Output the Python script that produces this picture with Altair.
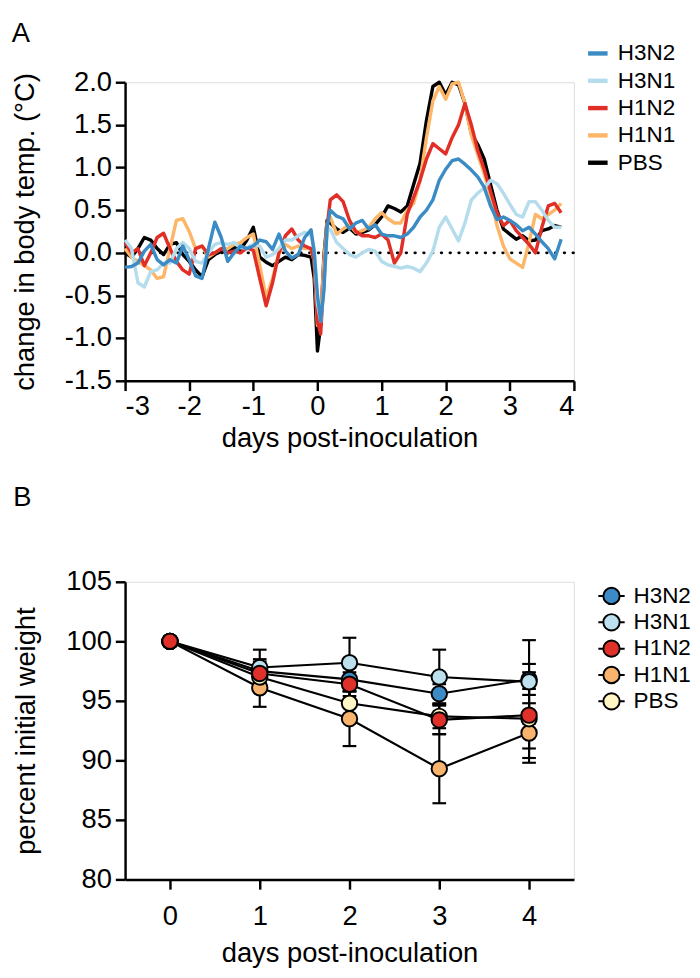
import altair as alt
import pandas as pd

FONT = "Liberation Sans"

# ---------------- Panel A data: change in body temperature ----------------
days = [-3.0, -2.9, -2.8, -2.7, -2.6, -2.5, -2.4, -2.3, -2.2, -2.1,
        -2.0, -1.9, -1.8, -1.7, -1.6, -1.5, -1.4, -1.3, -1.2, -1.1,
        -1.0, -0.9, -0.8, -0.7, -0.6, -0.5, -0.4, -0.3, -0.2, -0.1,
        -0.05, 0.0, 0.05, 0.1, 0.15, 0.2,
        0.3, 0.4, 0.5, 0.6, 0.7, 0.8, 0.9, 1.0, 1.1, 1.2, 1.3, 1.4,
        1.5, 1.6, 1.7, 1.8, 1.9, 2.0, 2.1, 2.2, 2.3, 2.4,
        2.5, 2.6, 2.7, 2.8, 2.9, 3.0, 3.1, 3.2, 3.3, 3.4,
        3.5, 3.6, 3.7, 3.8]

temp_h3n2 = [-0.17, -0.16, -0.12, 0.02, 0.10, -0.08, -0.14, -0.08, -0.12, 0.08,
             -0.08, -0.27, -0.30, 0.05, 0.36, 0.18, -0.10, 0.00, 0.08, 0.05,
             0.08, 0.15, 0.13, 0.04, 0.22, 0.02, -0.06, -0.02, 0.18, 0.27,
             0.00, -0.50, -0.80, -0.45, 0.30, 0.50,
             0.43, 0.40, 0.28, 0.35, 0.38, 0.28, 0.33, 0.22, 0.20, 0.20, 0.18, 0.22,
             0.30, 0.42, 0.50, 0.62, 0.85, 0.98, 1.08, 1.10, 1.04, 0.97,
             0.89, 0.77, 0.55, 0.39, 0.42, 0.38, 0.33, 0.26, 0.30, 0.22,
             0.13, 0.05, -0.07, 0.16]

temp_h3n1 = [0.15, 0.05, -0.35, -0.40, -0.22, -0.20, -0.12, -0.12, 0.05, 0.12,
             0.05, -0.10, -0.12, 0.00, 0.10, 0.12, 0.10, 0.12, 0.06, 0.06,
             0.10, 0.08, -0.05, -0.02, 0.05, 0.15, 0.15, 0.20, 0.24, 0.20,
             0.05, -0.60, -0.80, -0.40, 0.25, 0.28,
             0.12, 0.05, -0.02, -0.05, 0.00, 0.04, 0.02, -0.10, -0.14, -0.16, -0.18, -0.16,
             -0.18, -0.22, -0.12, 0.02, 0.30, 0.42, 0.28, 0.14, 0.35, 0.62,
             0.70, 0.76, 0.85, 0.81, 0.70, 0.57, 0.45, 0.42, 0.60, 0.60,
             0.50, 0.38, 0.30, 0.30]

temp_h1n2 = [0.12, 0.00, 0.05, -0.15, 0.00, 0.18, 0.23, 0.05, -0.10, -0.20,
             -0.25, 0.05, 0.08, -0.02, 0.00, 0.05, 0.00, 0.02, 0.00, 0.06,
             0.03, -0.30, -0.62, -0.35, 0.00, 0.20, 0.28, 0.15, 0.08, 0.05,
             -0.10, -0.80, -0.95, -0.30, 0.30, 0.62,
             0.68, 0.60, 0.38, 0.25, 0.20, 0.20, 0.18, 0.22, 0.15, -0.12, 0.00, 0.45,
             0.65, 0.85, 1.10, 1.28, 1.22, 1.16, 1.35, 1.50, 1.75, 1.50,
             1.20, 0.98, 0.72, 0.47, 0.32, 0.38, 0.26, 0.18, 0.10, 0.00,
             0.30, 0.55, 0.58, 0.47]

temp_h1n1 = [0.05, -0.05, -0.10, -0.15, -0.20, -0.30, -0.28, 0.05, 0.38, 0.40,
             0.25, 0.05, 0.08, -0.05, 0.00, 0.05, 0.05, 0.10, 0.12, 0.18,
             0.22, -0.15, -0.52, -0.30, 0.00, 0.10, 0.05, 0.08, 0.05, 0.05,
             -0.10, -0.85, -0.80, -0.10, 0.35, 0.42,
             0.22, 0.28, 0.33, 0.24, 0.26, 0.30, 0.40, 0.47, 0.40, 0.35, 0.35, 0.50,
             0.58, 0.85, 1.35, 1.78, 1.95, 1.80, 1.98, 2.00, 1.75, 1.38,
             1.15, 0.93, 0.66, 0.32, 0.08, -0.07, -0.12, -0.17, 0.12, 0.45,
             0.40, 0.45, 0.50, 0.58]

temp_pbs = [0.00, -0.05, 0.05, 0.18, 0.15, 0.05, -0.02, 0.10, 0.12, -0.02,
            -0.10, -0.20, -0.28, -0.08, -0.02, 0.02, 0.00, 0.06, 0.04, 0.15,
            0.30, -0.05, -0.11, -0.15, -0.10, -0.05, -0.08, -0.02, -0.03, -0.05,
            -0.30, -1.15, -0.85, -0.05, 0.38, 0.35,
            0.28, 0.24, 0.29, 0.22, 0.24, 0.27, 0.33, 0.42, 0.55, 0.52, 0.48, 0.55,
            0.80, 1.05, 1.55, 1.95, 2.00, 1.85, 2.00, 1.97, 1.75, 1.40,
            1.27, 1.10, 0.80, 0.50, 0.28, 0.22, 0.16, 0.20, 0.14, 0.15,
            0.26, 0.28, 0.32, 0.30]

groups = ["H3N2", "H3N1", "H1N2", "H1N1", "PBS"]
line_colors = ["#3b8bc5", "#b5dcec", "#e12e26", "#fdb668", "#000000"]
fill_colors = ["#3c8bc7", "#bde0ee", "#e0302a", "#f8b46e", "#fff6c4"]

# ---------------- Panel B data: percent initial weight ----------------
wdays = [0, 1, 2, 3, 4]
w_h3n2 = [100, 97.5, 96.8, 95.6, 96.8]
w_h3n1 = [100, 97.8, 98.2, 97.0, 96.6]
w_h1n2 = [100, 97.3, 96.4, 93.4, 93.8]
w_h1n1 = [100, 96.1, 93.5, 89.3, 92.3]
w_pbs = [100, 97.0, 94.8, 93.7, 93.5]
e_h3n2 = [0, 1.0, 1.0, 0.8, 1.3]
e_h3n1 = [0, 1.5, 2.1, 2.3, 3.5]
e_h1n2 = [0, 1.0, 1.0, 1.2, 3.6]
e_h1n1 = [0, 1.6, 2.3, 2.9, 2.5]
e_pbs = [0, 1.0, 1.0, 1.0, 2.5]
draw_rank = {"H3N2": 0, "H3N1": 1, "H1N1": 2, "PBS": 3, "H1N2": 4}

# ---------------- build tables ----------------
temp_series = dict(zip(groups, [temp_h3n2, temp_h3n1, temp_h1n2, temp_h1n1, temp_pbs]))
trows = []
for g, vals in temp_series.items():
    for d, v in zip(days, vals):
        trows.append({"day": d, "temp": v, "virus": g})
temp_df = pd.DataFrame(trows)

wmeans = dict(zip(groups, [w_h3n2, w_h3n1, w_h1n2, w_h1n1, w_pbs]))
werrs = dict(zip(groups, [e_h3n2, e_h3n1, e_h1n2, e_h1n1, e_pbs]))
wrows = []
for g in groups:
    for d, m, e in zip(wdays, wmeans[g], werrs[g]):
        wrows.append({"day": d, "weight": m, "lo": m - e, "hi": m + e,
                      "err": e, "virus": g, "rank": draw_rank[g]})
w_df = pd.DataFrame(wrows)

# ---------------- shared styling ----------------
axis_common = dict(domainColor="black", domainWidth=2.5, tickColor="black",
                   tickWidth=2.5, tickSize=10, labelColor="black",
                   labelFont=FONT, labelFontSize=28, titleFont=FONT,
                   titleFontSize=28, titleFontWeight="normal",
                   titleColor="black", grid=False)

xA = alt.X("day:Q", scale=alt.Scale(domain=[-3, 4], nice=False),
           axis=alt.Axis(title="days post-inoculation", values=list(range(-3, 5)),
                         labelExpr="datum.value < 0 ? '-' + format(abs(datum.value), 'd') : format(datum.value, 'd')",
                         labelPadding=3, titlePadding=4, **axis_common))
yA = alt.Y("temp:Q", scale=alt.Scale(domain=[-1.5, 2.0], nice=False, clamp=True),
           axis=alt.Axis(title="change in body temp. (°C)",
                         values=[-1.5, -1.0, -0.5, 0.0, 0.5, 1.0, 1.5, 2.0],
                         labelExpr="datum.value < 0 ? '-' + format(abs(datum.value), '.1f') : format(datum.value, '.1f')",
                         labelPadding=4, titlePadding=26, **axis_common))

colorA = alt.Color("virus:N", scale=alt.Scale(domain=groups, range=line_colors),
                   legend=alt.Legend(title=None, orient="none", legendX=472, legendY=-42,
                                     symbolType="stroke", symbolSize=400,
                                     symbolStrokeWidth=4.5, labelFont=FONT,
                                     labelFontSize=23, labelColor="black",
                                     rowPadding=3, padding=0, labelOffset=8))

zero_df = pd.DataFrame({"day": [-3.0], "day2": [4.0], "temp": [0.0]})
zero = alt.Chart(zero_df).mark_rule(color="black", strokeWidth=3, strokeDash=[0.5, 8.5],
                                    strokeCap="round").encode(x=xA, x2="day2:Q", y=yA)

line_layers = []
for g in ["PBS", "H1N1", "H1N2", "H3N1", "H3N2"]:
    line_layers.append(
        alt.Chart(temp_df).transform_filter(alt.datum.virus == g)
        .mark_line(strokeWidth=3.5, strokeJoin="round")
        .encode(x=xA, y=yA, color=colorA)
    )

panelA = alt.layer(zero, *line_layers).properties(
    width=460, height=306,
    title=alt.TitleParams("A", anchor="start", fontSize=28, fontWeight="normal",
                          font=FONT, color="black", offset=-7))

# ---------------- Panel B ----------------
xB = alt.X("day:Q", scale=alt.Scale(domain=[-0.5, 4.5], nice=False),
           axis=alt.Axis(title="days post-inoculation", values=[0, 1, 2, 3, 4],
                         format="d", labelPadding=14, titlePadding=10, **axis_common))
yB = alt.Y("weight:Q", scale=alt.Scale(domain=[80, 105], nice=False, zero=False),
           axis=alt.Axis(title="percent initial weight",
                         values=[80, 85, 90, 95, 100, 105], format="d",
                         labelPadding=4, titlePadding=26, **axis_common))

legend_path = ("M-1,0L-0.62,0M0.62,0L1,0M0.62,0A0.62,0.62,0,1,1,-0.62,0"
               "A0.62,0.62,0,1,1,0.62,0Z")
fillB = alt.Fill("virus:N", scale=alt.Scale(domain=groups, range=fill_colors),
                 legend=alt.Legend(title=None, orient="none", legendX=484, legendY=0,
                                   symbolType=legend_path, symbolSize=729,
                                   symbolStrokeColor="black", symbolStrokeWidth=2,
                                   symbolOpacity=1, labelFont=FONT,
                                   labelFontSize=23, labelColor="black",
                                   rowPadding=0, padding=0, labelOffset=8))

base_b = alt.Chart(w_df)
linesB = base_b.mark_line(color="black", strokeWidth=2.2).encode(
    x=xB, y=yB, detail="virus:N")
errB = base_b.transform_filter(alt.datum.err > 0).mark_rule(
    color="black", strokeWidth=2.2).encode(x=xB, y="lo:Q", y2="hi:Q")
capLo = base_b.transform_filter(alt.datum.err > 0).mark_tick(
    color="black", thickness=2.2, size=14, orient="horizontal", opacity=1).encode(
    x=xB, y=alt.Y("lo:Q"))
capHi = base_b.transform_filter(alt.datum.err > 0).mark_tick(
    color="black", thickness=2.2, size=14, orient="horizontal", opacity=1).encode(
    x=xB, y=alt.Y("hi:Q"))
ptsB = base_b.mark_circle(size=250, stroke="black", strokeWidth=2, opacity=1).encode(
    x=xB, y=yB, fill=fillB, order=alt.Order("rank:Q"))

panelB = alt.layer(linesB, errB, capLo, capHi, ptsB).properties(
    width=460, height=305,
    title=alt.TitleParams("B", anchor="start", fontSize=28, fontWeight="normal",
                          font=FONT, color="black", offset=58))

chart = alt.vconcat(panelA, panelB, spacing=31).resolve_scale(
    x="independent", y="independent", color="independent", fill="independent"
).properties(padding={"left": 3, "top": 0, "right": 0, "bottom": 0}).configure_view(
    stroke="transparent", strokeWidth=0).configure(background="white")

chart.save("out.html", embed_options={"renderer": "svg", "actions": False})
